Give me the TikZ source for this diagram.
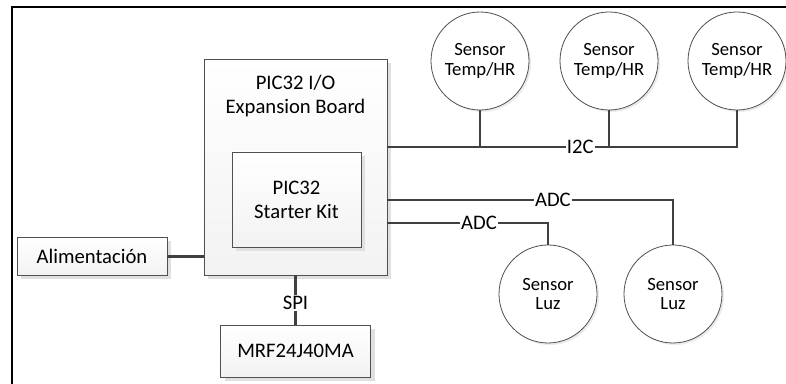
\documentclass[tikz,border=0pt]{standalone}
\usepackage{fontspec}
\setmainfont{Carlito}
\usetikzlibrary{shadows}

\definecolor{wire}{HTML}{404040}
\definecolor{edge}{HTML}{505050}

\begin{document}
\begin{tikzpicture}[x=0.75pt, y=-0.75pt,
  block/.style={draw=edge, line width=0.6pt, top color=white, bottom color=black!5, align=center,
    font=\fontsize{15.5}{18}\selectfont, inner sep=0pt,
    drop shadow={shadow xshift=3pt, shadow yshift=-3pt, fill=black!12, opacity=1}},
  sensor/.style={circle, draw=edge, line width=0.6pt, fill=white, minimum size=73.5pt, inner sep=0pt,
    align=center, font=\fontsize{14}{14.5}\selectfont,
    drop shadow={shadow xshift=1.5pt, shadow yshift=-1.5pt, fill=black!8, opacity=1}},
  bus/.style={draw=wire, line width=2pt},
  tag/.style={fill=white, inner sep=1pt, font=\fontsize{15.5}{18}\selectfont}
]
\useasboundingbox (0,0) rectangle (786,384);
\draw[line width=1.5pt] (11.5,384) -- (11.5,7.5) -- (786,7.5);

% main boards
\node[block, minimum width=137.25pt, minimum height=162pt,
  label={[anchor=north, align=center, font=\fontsize{15.5}{18}\selectfont, yshift=-9pt]north:PIC32 I/O\\Expansion Board}]
  (board) at (295.5,167) {};
\node[block, minimum width=96.75pt, minimum height=71.25pt] (kit) at (296.5,199.5) {PIC32\\Starter Kit};
\node[block, minimum width=112.5pt, minimum height=28.5pt] (alim) at (92,256.5) {Alimentación};
\node[block, minimum width=112.5pt, minimum height=39pt] (mrf) at (295.5,351) {MRF24J40MA};

% sensors
\node[sensor] (temp1) at (480,61) {Sensor\\Temp/HR};
\node[sensor] (temp2) at (609,61) {Sensor\\Temp/HR};
\node[sensor] (temp3) at (737,61) {Sensor\\Temp/HR};
\node[sensor] (luz1) at (548,294) {Sensor\\Luz};
\node[sensor] (luz2) at (673,294) {Sensor\\Luz};

\coordinate (i2c) at (387,147);
\coordinate (adcA) at (387,200);
\coordinate (adcB) at (387,223);

% connections
\draw[bus] (alim.east) -- (alim.east -| board.west);
\draw[bus] (board.south) -- node[tag, yshift=-2pt] {SPI} (mrf.north);
\draw[bus] (i2c) -| node[tag, pos=0.276] {I2C} (temp3.south);
\draw[bus] (temp1.south) -- (temp1.south |- i2c);
\draw[bus] (temp2.south) -- (temp2.south |- i2c);
\draw[bus] (adcA) -| node[tag, pos=0.29] {ADC} (luz2.north);
\draw[bus] (adcB) -| node[tag, pos=0.286] {ADC} (luz1.north);
\end{tikzpicture}
\end{document}
